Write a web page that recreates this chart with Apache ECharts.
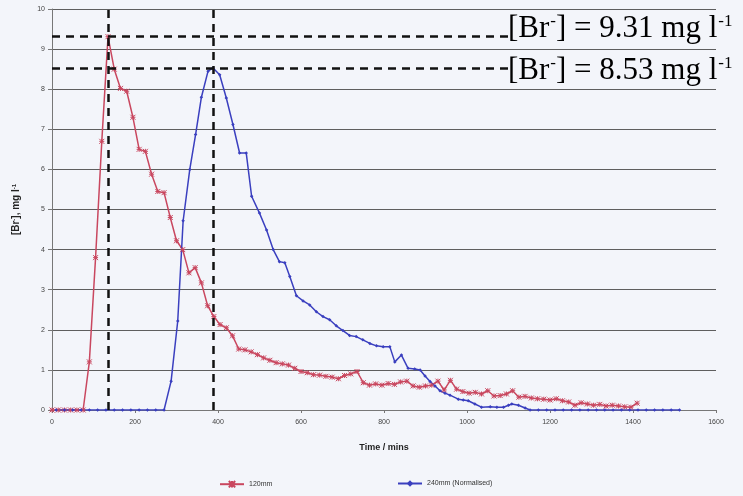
<!DOCTYPE html>
<html>
<head>
<meta charset="utf-8">
<script src="https://cdn.jsdelivr.net/npm/echarts@6/dist/echarts.min.js"></script>
<style>
  html, body { margin: 0; padding: 0; background: #f3f5fa; }
  #chart { width: 743px; height: 496px; }
</style>
</head>
<body>
<div id="chart"></div>
<script>
// Bromide breakthrough, 120 mm column (time in mins, concentration in mg/l)
const redTime = [0, 15, 30, 45, 60, 75, 90, 105, 120, 135, 150, 165, 180, 195, 210, 225, 240, 255, 270, 285,
  300, 315, 330, 345, 360, 375, 390, 405, 420, 435, 450, 465, 480, 495, 510, 525, 540, 555, 570, 585,
  600, 615, 630, 645, 660, 675, 690, 705, 720, 735, 750, 765, 780, 795, 810, 825, 840, 855, 870, 885,
  900, 915, 930, 945, 960, 975, 990, 1005, 1020, 1035, 1050, 1065, 1080, 1095, 1110, 1125, 1140, 1155, 1170, 1185,
  1200, 1215, 1230, 1245, 1260, 1275, 1290, 1305, 1320, 1335, 1350, 1365, 1380, 1395, 1410];
const redConc = [0, 0, 0, 0, 0, 0, 1.2, 3.8, 6.7, 9.31, 8.5, 8.02, 7.95, 7.3, 6.5, 6.45, 5.88, 5.45, 5.42, 4.8,
  4.22, 4.0, 3.42, 3.55, 3.17, 2.6, 2.33, 2.13, 2.05, 1.85, 1.52, 1.5, 1.45, 1.38, 1.3, 1.24, 1.18, 1.15, 1.12, 1.04,
  0.96, 0.93, 0.88, 0.87, 0.84, 0.82, 0.78, 0.86, 0.9, 0.96, 0.68, 0.62, 0.65, 0.62, 0.66, 0.64, 0.7, 0.72, 0.6, 0.57,
  0.6, 0.62, 0.72, 0.5, 0.74, 0.52, 0.46, 0.42, 0.44, 0.4, 0.48, 0.35, 0.36, 0.4, 0.48, 0.32, 0.34, 0.3, 0.28, 0.27,
  0.25, 0.28, 0.23, 0.2, 0.12, 0.18, 0.15, 0.12, 0.14, 0.1, 0.12, 0.1, 0.08, 0.07, 0.17];

// Bromide breakthrough, 240 mm column, normalised
const blueTime = [10, 30, 50, 70, 90, 110, 130, 150, 170, 190, 210, 230, 250, 270,
  287, 303, 316, 332, 346, 360, 376, 388, 404, 420, 436, 452, 468, 481, 500, 517, 533, 548, 561, 573, 589,
  605, 621, 637, 653, 669, 685, 701, 717, 733, 749, 766, 782, 798, 814, 826, 842, 858, 874, 887, 899, 911,
  923, 935, 947, 959, 979, 991, 1003, 1019, 1035, 1056, 1072, 1088, 1100, 1108, 1124, 1140, 1152,
  1172, 1192, 1212, 1232, 1252, 1272, 1292, 1312, 1332, 1352, 1372, 1392, 1412, 1432, 1452, 1472, 1492, 1512];
const blueConc = [0, 0, 0, 0, 0, 0, 0, 0, 0, 0, 0, 0, 0, 0,
  0.72, 2.22, 4.72, 6.0, 6.87, 7.8, 8.45, 8.53, 8.36, 7.78, 7.12, 6.41, 6.41, 5.33, 4.91, 4.49, 4.0, 3.7, 3.67, 3.33, 2.85,
  2.72, 2.62, 2.45, 2.33, 2.25, 2.1, 1.98, 1.86, 1.83, 1.75, 1.66, 1.6, 1.58, 1.58, 1.2, 1.37, 1.04, 1.02, 1.0, 0.85, 0.71,
  0.6, 0.48, 0.42, 0.37, 0.27, 0.25, 0.23, 0.15, 0.07, 0.08, 0.07, 0.07, 0.12, 0.15, 0.12, 0.05, 0,
  0, 0, 0, 0, 0, 0, 0, 0, 0, 0, 0, 0, 0, 0, 0, 0, 0, 0];

// Peak markers: time of each peak and its concentration
const peakTimes = [135, 388];
const peakConc = [9.31, 8.53];
const peakLineEnd = 1100;

const seriesNames = ['120mm', '240mm (Normalised)'];
const xTicks = { min: 0, max: 1600, step: 200 };
const yTicks = { min: 0, max: 10, step: 1 };

const RED = '#c9475f';
const BLUE = '#3a3fbf';
const starPath = 'path://M0,0L10,10M10,0L0,10M5,0L5,10M0,5L10,5';

const pair = (ts, vs) => ts.map((t, i) => [t, vs[i]]);

const guideLines = [];
peakTimes.forEach((t) => {
  guideLines.push([{ coord: [t, yTicks.min] }, { coord: [t, yTicks.max] }]);
});
peakConc.forEach((c) => {
  guideLines.push([{ coord: [xTicks.min, c] }, { coord: [peakLineEnd, c] }]);
});

const chart = echarts.init(document.getElementById('chart'), null, { renderer: 'canvas' });

const sup = { fontSize: 17, fontFamily: 'Liberation Serif', color: '#111', verticalAlign: 'top', padding: [0, 0, 14, 1] };
const main = { fontSize: 31, fontFamily: 'Liberation Serif', color: '#111' };

function peakLabel(c) {
  return '{m|[Br}{s|-}{m|] = ' + c.toFixed(2) + ' mg l}{s|-1}';
}

chart.setOption({
  animation: false,
  backgroundColor: '#f3f5fa',
  grid: { left: 52, right: 27, top: 9, bottom: 86 },
  legend: [
    {
      data: [seriesNames[0]], left: 214, top: 475, itemWidth: 24, itemHeight: 8,
      textStyle: { fontSize: 7, color: '#333', fontFamily: 'Liberation Sans' }
    },
    {
      data: [seriesNames[1]], left: 392, top: 475, itemWidth: 24, itemHeight: 8,
      textStyle: { fontSize: 7, color: '#333', fontFamily: 'Liberation Sans' }
    }
  ],
  xAxis: {
    type: 'value', min: xTicks.min, max: xTicks.max, interval: xTicks.step,
    name: 'Time / mins', nameLocation: 'middle', nameGap: 33,
    nameTextStyle: { fontSize: 9, fontWeight: 'bold', color: '#222', fontFamily: 'Liberation Sans' },
    axisLine: { lineStyle: { color: '#777', width: 1 } },
    axisTick: { show: true, length: 3, lineStyle: { color: '#777' } },
    axisLabel: { fontSize: 7, color: '#444', margin: 9, fontFamily: 'Liberation Sans', formatter: (v) => String(v) },
    splitLine: { show: false }
  },
  yAxis: {
    type: 'value', min: yTicks.min, max: yTicks.max, interval: yTicks.step,
    name: '{b|[Br}{bs|-}{b|], mg l}{bs|-1}', nameLocation: 'middle', nameGap: 31,
    nameTextStyle: {
      rich: {
        b: { fontSize: 10, fontWeight: 'bold', color: '#222', fontFamily: 'Liberation Sans' },
        bs: { fontSize: 6, fontWeight: 'bold', color: '#222', fontFamily: 'Liberation Sans', verticalAlign: 'top' }
      }
    },
    axisLine: { show: true, lineStyle: { color: '#777', width: 1 } },
    axisTick: { show: true, length: 4, lineStyle: { color: '#777' } },
    axisLabel: { fontSize: 7, color: '#444', margin: 7, fontFamily: 'Liberation Sans' },
    splitLine: { show: true, lineStyle: { color: '#5e5e5e', width: 1.2 } }
  },
  series: [
    {
      name: seriesNames[0], type: 'line', data: pair(redTime, redConc),
      symbol: starPath, symbolSize: 5, showAllSymbol: true,
      lineStyle: { color: RED, width: 1.5 },
      itemStyle: { color: RED, borderColor: RED, borderWidth: 1 },
      z: 3
    },
    {
      name: seriesNames[1], type: 'line', data: pair(blueTime, blueConc),
      symbol: 'diamond', symbolSize: 3.5, showAllSymbol: true,
      lineStyle: { color: BLUE, width: 1.5 },
      itemStyle: { color: BLUE },
      z: 3
    },
    {
      name: 'guides', type: 'line', data: [], silent: true, z: 4,
      markLine: {
        silent: true, symbol: ['none', 'none'], label: { show: false },
        lineStyle: { color: '#111', width: 2.5, type: [8, 6] },
        data: guideLines
      }
    }
  ],
  graphic: peakConc.map((c, i) => ({
    type: 'text', left: 508, top: i === 0 ? 13 : 55, z: 10,
    style: { text: peakLabel(c), rich: { m: main, s: sup } }
  }))
});
</script>
</body>
</html>
